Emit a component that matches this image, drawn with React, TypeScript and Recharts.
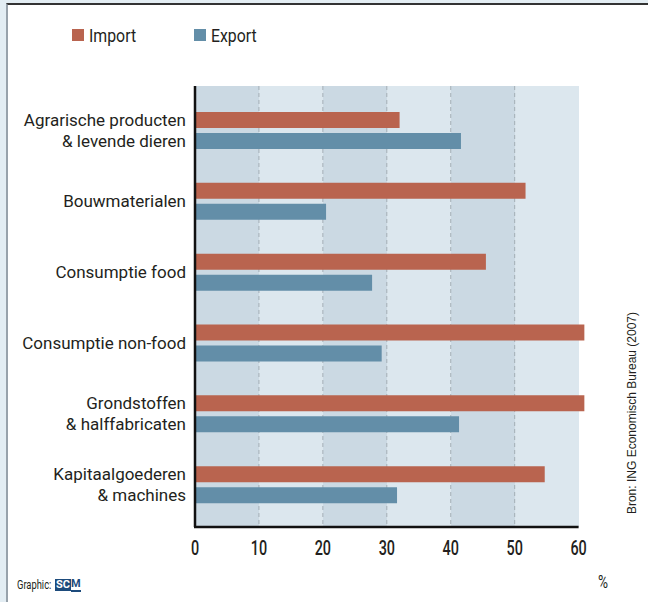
import React from 'react';
import * as R from 'recharts';

const { BarChart, Bar, XAxis, YAxis, CartesianGrid } = R;

// ---- data ----
const categories = [
  'Agrarische producten\n& levende dieren',
  'Bouwmaterialen',
  'Consumptie food',
  'Consumptie non-food',
  'Grondstoffen\n& halffabricaten',
  'Kapitaalgoederen\n& machines',
];
const importValues = [32.0, 51.7, 45.5, 60.9, 60.9, 54.7];
const exportValues = [41.6, 20.5, 27.7, 29.2, 41.3, 31.6];
const xTicks = [0, 10, 20, 30, 40, 50, 60];
const dashedLines = [10, 20, 30, 40, 50];
const xDomain: [number, number] = [0, 61];
const seriesNames = ['Import', 'Export'];

const IMPORT_COLOR = '#b9644f';
const EXPORT_COLOR = '#638ea8';
const BAND_DARK = '#cbd9e3';
const BAND_LIGHT = '#dce7ee';
const TEXT = '#231f20';
const FONT = "Roboto, 'Liberation Sans', sans-serif";

const data = categories.map((name, i) => ({
  name,
  Import: importValues[i],
  Export: exportValues[i],
}));

const usePlotAreaSafe: () => any =
  typeof (R as any).usePlotArea === 'function' ? (R as any).usePlotArea : () => null;
const hasPlotArea = typeof (R as any).usePlotArea === 'function';

function BottomAxisLine() {
  const pa = usePlotAreaSafe();
  if (!pa) return null;
  const lastTick = xTicks[xTicks.length - 1];
  const end = pa.x + (pa.width * (lastTick - xDomain[0])) / (xDomain[1] - xDomain[0]);
  const y = pa.y + pa.height;
  return <line x1={pa.x - 1} x2={end} y1={y} y2={y} stroke="#111" strokeWidth={2.5} />;
}

const CategoryTick = (props: any) => {
  const { x, y, payload } = props;
  const lines = String(payload.value).split('\n');
  const lh = 21;
  const start = -((lines.length - 1) * lh) / 2;
  return (
    <text
      x={x}
      y={y}
      textAnchor="end"
      fill={TEXT}
      fontSize={17}
      fontFamily={FONT}
      dominantBaseline="central"
    >
      {lines.map((l, i) => (
        <tspan key={i} x={x} dy={i === 0 ? start : lh}>
          {l}
        </tspan>
      ))}
    </text>
  );
};

const NumberTick = (props: any) => {
  const { x, y, payload } = props;
  return (
    <text
      transform={`translate(${x},${y}) scale(0.72,1)`}
      textAnchor="middle"
      dy="0.71em"
      fill={TEXT}
      fontSize={20}
      fontWeight={500}
      fontFamily={FONT}
    >
      {payload.value}
    </text>
  );
};

const condensed = (scale: number): React.CSSProperties => ({
  display: 'inline-block',
  transform: `scaleX(${scale})`,
  transformOrigin: 'left center',
  whiteSpace: 'nowrap',
});

export default function App() {
  return (
    <div
      style={{
        position: 'absolute',
        left: 0,
        top: 0,
        width: 648,
        height: 602,
        background: '#e3edf3',
        overflow: 'hidden',
      }}
    >
      <div
        style={{
          position: 'absolute',
          left: 6,
          top: 3,
          right: 0,
          bottom: 0,
          background: '#ffffff',
          borderTop: '2px solid #333',
          borderLeft: '2px solid #98a2ab',
        }}
      />
      {/* legend */}
      {seriesNames.map((n, i) => (
        <div
          key={n}
          style={{
            position: 'absolute',
            top: 24,
            left: i === 0 ? 72 : 194,
            height: 22,
            display: 'flex',
            alignItems: 'center',
            fontFamily: FONT,
            fontSize: 18,
            color: TEXT,
          }}
        >
          <span
            style={{
              display: 'inline-block',
              width: 12,
              height: 12,
              background: i === 0 ? IMPORT_COLOR : EXPORT_COLOR,
              marginRight: 5,
            }}
          />
          <span style={condensed(0.88)}>{n}</span>
        </div>
      ))}
      <div style={{ position: 'absolute', left: 0, top: 0 }}>
        <BarChart
          width={648}
          height={602}
          data={data}
          layout="vertical"
          margin={{ top: 86, right: 63, bottom: 45, left: 5 }}
          barSize={16}
          barGap={5}
        >
          <CartesianGrid
            horizontal={false}
            vertical={true}
            stroke="none"
            verticalValues={xTicks}
            verticalFill={[BAND_DARK, BAND_LIGHT, BAND_DARK, BAND_LIGHT, BAND_DARK, BAND_LIGHT, 'none']}
          />
          <CartesianGrid
            horizontal={false}
            vertical={true}
            verticalValues={dashedLines}
            stroke="#a4aeb6"
            strokeDasharray="4 3"
          />
          <XAxis
            type="number"
            domain={xDomain}
            ticks={xTicks}
            interval={0}
            height={30}
            axisLine={hasPlotArea ? false : { stroke: '#111', strokeWidth: 2.5 }}
            tickLine={false}
            tickSize={0}
            tickMargin={14}
            tick={<NumberTick />}
          />
          <YAxis
            type="category"
            dataKey="name"
            width={190}
            padding={{ top: 9, bottom: 7 }}
            axisLine={{ stroke: '#111', strokeWidth: 2.5 }}
            tickLine={false}
            tickSize={0}
            tickMargin={9}
            interval={0}
            tick={<CategoryTick />}
          />
          <Bar dataKey="Import" fill={IMPORT_COLOR} isAnimationActive={false} />
          <Bar dataKey="Export" fill={EXPORT_COLOR} isAnimationActive={false} />
          <BottomAxisLine />
        </BarChart>
      </div>
      {/* unit */}
      <div
        style={{
          position: 'absolute',
          left: 598,
          top: 571,
          fontFamily: FONT,
          fontSize: 19,
          color: TEXT,
          lineHeight: '22px',
        }}
      >
        <span style={condensed(0.72)}>%</span>
      </div>
      {/* credit */}
      <div
        style={{
          position: 'absolute',
          left: 17,
          top: 578,
          fontFamily: FONT,
          fontSize: 13,
          color: TEXT,
          lineHeight: '14px',
          width: 80,
          height: 14,
        }}
      >
        <span style={condensed(0.72)}>Graphic:</span>
        <span
          style={{
            position: 'absolute',
            left: 38,
            top: 0,
            display: 'flex',
            alignItems: 'center',
            fontFamily: FONT,
            fontWeight: 'bold',
            fontSize: 11,
            lineHeight: '12px',
          }}
        >
          <span style={{ background: '#1d4b7c', color: '#ffffff', padding: '0 1px' }}>SC</span>
          <span style={{ color: '#1d4b7c', borderBottom: '2px solid #1d4b7c' }}>M</span>
        </span>
      </div>
      {/* source, rotated */}
      <div
        style={{
          position: 'absolute',
          left: 632,
          top: 413,
          transform: 'translate(-50%, -50%) rotate(-90deg)',
          whiteSpace: 'nowrap',
          fontFamily: "'Liberation Sans', Arial, sans-serif",
          fontSize: 12,
          color: TEXT,
        }}
      >
        Bron: ING Economisch Bureau (2007)
      </div>
    </div>
  );
}
